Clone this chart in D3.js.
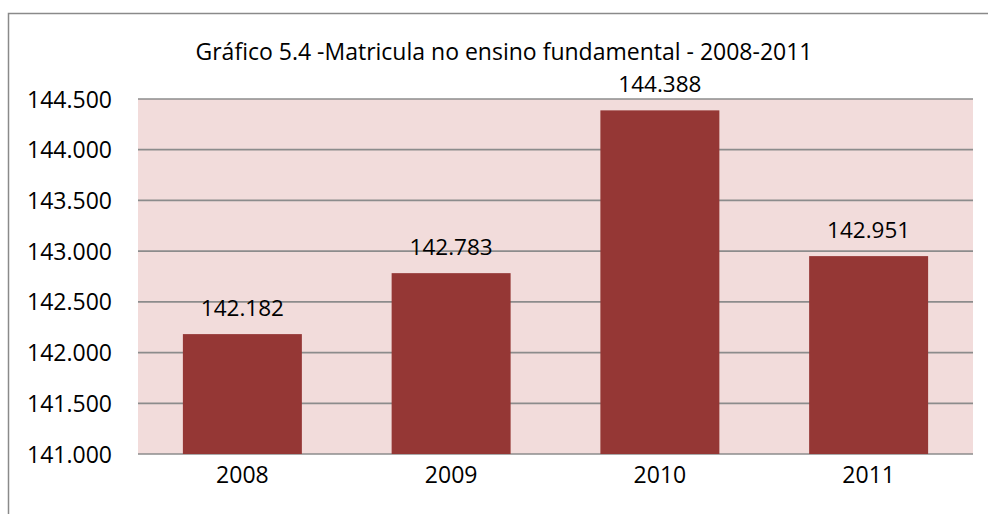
<!DOCTYPE html>
<meta charset="utf-8">
<script src="https://d3js.org/d3.v7.min.js"></script>
<style>
  body { margin: 0; background: #fff; }
  text { font-family: "Open Sans", sans-serif; fill: #000; }
</style>
<div id="my_dataviz"></div>
<script>

// data
var years = ["2008", "2009", "2010", "2011"];
var matriculas = [142182, 142783, 144388, 142951];
var yTicks = [141000, 141500, 142000, 142500, 143000, 143500, 144000, 144500];
var title = "Gráfico 5.4 -Matricula no ensino fundamental - 2008-2011";

var width = 988, height = 514;
var margin = {top: 99, right: 15, bottom: 60, left: 138};

var svg = d3.select("#my_dataviz")
  .append("svg")
    .attr("width", width)
    .attr("height", height);

// outer chart frame (runs off the right and bottom edges)
svg.append("rect")
  .attr("x", 8.5).attr("y", 13.5)
  .attr("width", 1100).attr("height", 600)
  .attr("fill", "none")
  .attr("stroke", "#8a8a8a")
  .attr("stroke-width", 1.5);

var g = svg.append("g")
  .attr("transform", "translate(" + margin.left + "," + margin.top + ")");

var w = width - margin.left - margin.right,
    h = height - margin.top - margin.bottom;

var x = d3.scaleBand()
  .domain(years)
  .range([0, w])
  .paddingInner(0.43)
  .paddingOuter(0.215);

var y = d3.scaleLinear()
  .domain([141000, 144500])
  .range([h, 0]);

var fmt = function(d) { return d3.format(",")(d).replace(/,/g, "."); };

// plot background
g.append("rect")
  .attr("width", w).attr("height", h)
  .attr("fill", "#f2dcdb");

// gridlines
g.selectAll(".grid")
  .data(yTicks)
  .enter().append("line")
    .attr("x1", 0).attr("x2", w)
    .attr("y1", function(d) { return y(d); })
    .attr("y2", function(d) { return y(d); })
    .attr("stroke", "#8c8c8c")
    .attr("stroke-width", 1.7);

// bars
g.selectAll(".bar")
  .data(matriculas)
  .enter().append("rect")
    .attr("x", function(d, i) { return x(years[i]); })
    .attr("y", function(d) { return y(d); })
    .attr("width", x.bandwidth())
    .attr("height", function(d) { return h - y(d); })
    .attr("fill", "#953735");

// value labels
g.selectAll(".lbl")
  .data(matriculas)
  .enter().append("text")
    .attr("x", function(d, i) { return x(years[i]) + x.bandwidth() / 2; })
    .attr("y", function(d) { return y(d) - 18; })
    .attr("text-anchor", "middle")
    .style("font-size", "22.5px")
    .text(fmt);

// y axis
var yAxis = g.append("g")
  .call(d3.axisLeft(y).tickValues(yTicks).tickFormat(fmt).tickSize(0).tickPadding(26));
yAxis.select(".domain").remove();
yAxis.selectAll("text")
  .style("font-size", "23px")
  .attr("dy", "0.35em");

// x axis
var xAxis = g.append("g")
  .attr("transform", "translate(0," + h + ")")
  .call(d3.axisBottom(x).tickSize(0).tickPadding(13));
xAxis.select(".domain").remove();
xAxis.selectAll("text")
  .style("font-size", "23px")
  .attr("dy", "0.71em");

// title
svg.append("text")
  .attr("x", 504)
  .attr("y", 60)
  .attr("text-anchor", "middle")
  .style("font-size", "23px")
  .text(title);

</script>
